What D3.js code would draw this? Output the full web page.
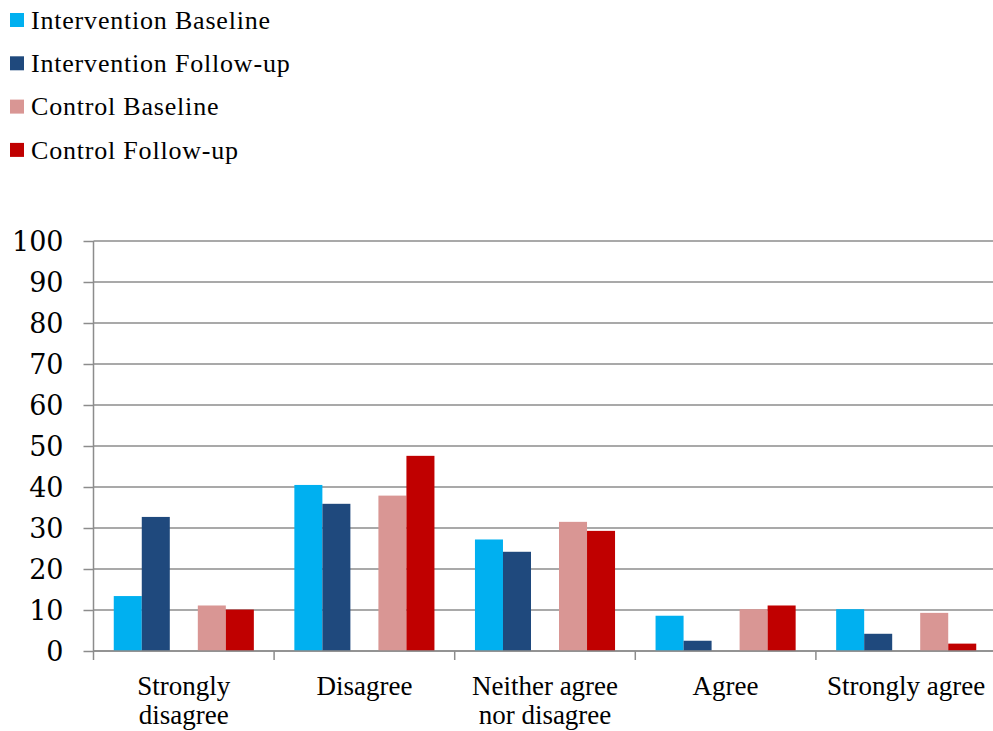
<!DOCTYPE html>
<html>
<head>
<meta charset="utf-8">
<script src="https://cdn.jsdelivr.net/npm/d3@7"></script>
<style>
  html, body { margin: 0; padding: 0; background: #ffffff; }
  svg { display: block; }
</style>
</head>
<body>
<svg id="chart" width="993" height="731"></svg>
<script>
const categories = ["Strongly disagree", "Disagree", "Neither agree nor disagree", "Agree", "Strongly agree"];
const categoryLines = [["Strongly", "disagree"], ["Disagree"], ["Neither agree", "nor disagree"], ["Agree"], ["Strongly agree"]];
const seriesNames = ["Intervention Baseline", "Intervention Follow-up", "Control Baseline", "Control Follow-up"];
const interventionBaseline = [13.4, 40.5, 27.2, 8.6, 10.2];
const interventionFollowup = [32.7, 35.9, 24.2, 2.5, 4.2];
const controlBaseline = [11.1, 37.9, 31.5, 10.2, 9.3];
const controlFollowup = [10.1, 47.6, 29.3, 11.1, 1.8];
const seriesColors = ["#00B0F0", "#1F497D", "#D99694", "#C00000"];
const yTicks = [0, 10, 20, 30, 40, 50, 60, 70, 80, 90, 100];

const seriesValues = [interventionBaseline, interventionFollowup, controlBaseline, controlFollowup];
const slots = [seriesNames[0], seriesNames[1], "__gap__", seriesNames[2], seriesNames[3]];

const svg = d3.select("#chart");
const mLeft = 93.5, mRight = 996.5, mTop = 241, mBottom = 651;

const x = d3.scaleBand().domain(categories).range([mLeft, mRight]).padding(0);
const xs = d3.scaleBand().domain(slots).range([0, x.bandwidth()]).paddingInner(0).paddingOuter(0.723);
const y = d3.scaleLinear().domain([0, 100]).range([mBottom, mTop]);

// gridlines
svg.append("g").selectAll("line").data(yTicks).join("line")
  .attr("x1", mLeft).attr("x2", 993)
  .attr("y1", d => y(d)).attr("y2", d => y(d))
  .attr("stroke", "#8c8c8c").attr("stroke-width", 1.5);

// bars
const rows = [];
categories.forEach((c, i) => {
  seriesNames.forEach((s, j) => rows.push({ c, s, v: seriesValues[j][i], color: seriesColors[j] }));
});
svg.append("g").selectAll("rect").data(rows).join("rect")
  .attr("x", d => x(d.c) + xs(d.s))
  .attr("width", xs.bandwidth())
  .attr("y", d => y(d.v))
  .attr("height", d => y(0) - y(d.v))
  .attr("fill", d => d.color);

// y axis
const yAxis = svg.append("g").attr("transform", `translate(${mLeft},0)`)
  .call(d3.axisLeft(y).tickValues(yTicks).tickSize(10).tickPadding(20).tickFormat(d3.format("d")));
yAxis.select(".domain").attr("stroke", "#8c8c8c").attr("stroke-width", 1.5).attr("d", `M0,${mTop}V${mBottom}`);
yAxis.selectAll(".tick line").attr("stroke", "#8c8c8c").attr("stroke-width", 1.5);
yAxis.selectAll(".tick text")
  .style("font-family", "'DejaVu Serif', serif")
  .style("font-size", "27px").attr("fill", "#000").attr("dy", "0.36em");

// x axis
const xAxis = svg.append("g").attr("transform", `translate(0,${mBottom})`)
  .call(d3.axisBottom(x).tickSize(0).tickFormat(""));
xAxis.select(".domain").attr("stroke", "#8c8c8c").attr("stroke-width", 1.5).attr("d", `M${mLeft},0H993`);
xAxis.selectAll(".tick").remove();
const boundaries = categories.map(c => x(c)).concat([mRight]);
xAxis.selectAll("line.b").data(boundaries).join("line").attr("class", "b")
  .attr("x1", d => d).attr("x2", d => d).attr("y1", 0).attr("y2", 9)
  .attr("stroke", "#8c8c8c").attr("stroke-width", 1.5);

// x labels
const lab = svg.append("g");
categories.forEach((c, i) => {
  const cx = x(c) + x.bandwidth() / 2;
  const t = lab.append("text").attr("x", cx).attr("y", 694.5)
    .attr("text-anchor", "middle").attr("fill", "#000")
    .style("font-size", "27px")
    .style("font-family", "'Liberation Serif', serif");
  categoryLines[i].forEach((ln, k) => {
    t.append("tspan").attr("x", cx).attr("dy", k === 0 ? 0 : 29).text(ln);
  });
});

// legend
const leg = svg.append("g");
seriesNames.forEach((s, i) => {
  const cy = 20 + i * 43.3;
  leg.append("rect").attr("x", 10).attr("y", cy - 7).attr("width", 14).attr("height", 14).attr("fill", seriesColors[i]);
  leg.append("text").attr("x", 31).attr("y", cy).attr("dy", "0.34em").attr("fill", "#000")
    .style("font-size", "26px").style("letter-spacing", "0.8px")
    .style("font-family", "'Liberation Serif', serif").text(s);
});
</script>
</body>
</html>
